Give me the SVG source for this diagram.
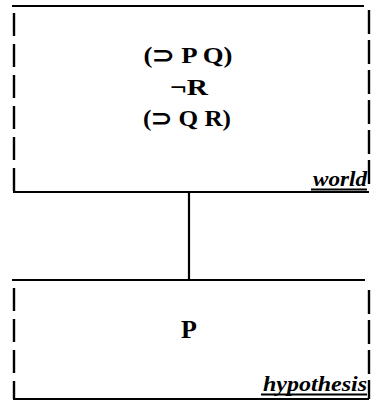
<svg xmlns="http://www.w3.org/2000/svg" width="371" height="404" viewBox="0 0 371 404">
<style>
.solid{stroke:#000;stroke-width:2.2;fill:none}
.sideL{stroke:#000;stroke-width:2.4;fill:none;stroke-dasharray:23 8}
.sideR{stroke:#000;stroke-width:2.4;fill:none;stroke-dasharray:24 6}
.t{font-family:"Liberation Serif",serif;font-weight:bold;font-size:23px;text-anchor:middle;fill:#000}
.lbl{font-family:"Liberation Serif",serif;font-style:italic;font-weight:bold;font-size:20px;text-anchor:end;fill:#000}
</style>
<rect width="371" height="404" fill="#fff"/>
<g id="world">
<line class="solid" x1="12" y1="6" x2="364" y2="6"/>
<line class="sideL" x1="14" y1="13" x2="14" y2="192"/>
<line class="sideR" x1="369" y1="10" x2="369" y2="190"/>
<line class="solid" x1="13" y1="192" x2="369" y2="192"/>
<text class="t" x="188" y="63" textLength="89" lengthAdjust="spacingAndGlyphs">(⊃ P Q)</text>
<text class="t" x="189" y="95" textLength="38" lengthAdjust="spacingAndGlyphs">¬R</text>
<text class="t" x="187" y="126" textLength="88" lengthAdjust="spacingAndGlyphs">(⊃ Q R)</text>
<text class="lbl" x="367" y="186" textLength="54" lengthAdjust="spacingAndGlyphs">world</text>
<line class="solid" x1="311" y1="189.5" x2="367" y2="189.5" stroke-width="1.6"/>
</g>
<g id="connectors">
<line class="solid" x1="189" y1="192" x2="189" y2="280"/>
</g>
<g id="hypothesis">
<line class="solid" x1="12" y1="280" x2="365" y2="280"/>
<line class="sideL" x1="14" y1="288" x2="14" y2="399"/>
<line class="sideR" x1="369" y1="290" x2="369" y2="399"/>
<line class="solid" x1="13" y1="399" x2="369" y2="399"/>
<text class="t" x="189" y="338" style="font-size:26px">P</text>
<text class="lbl" x="367" y="391" textLength="104" lengthAdjust="spacingAndGlyphs">hypothesis</text>
<line class="solid" x1="261" y1="394.5" x2="367" y2="394.5" stroke-width="1.6"/>
</g>
</svg>
